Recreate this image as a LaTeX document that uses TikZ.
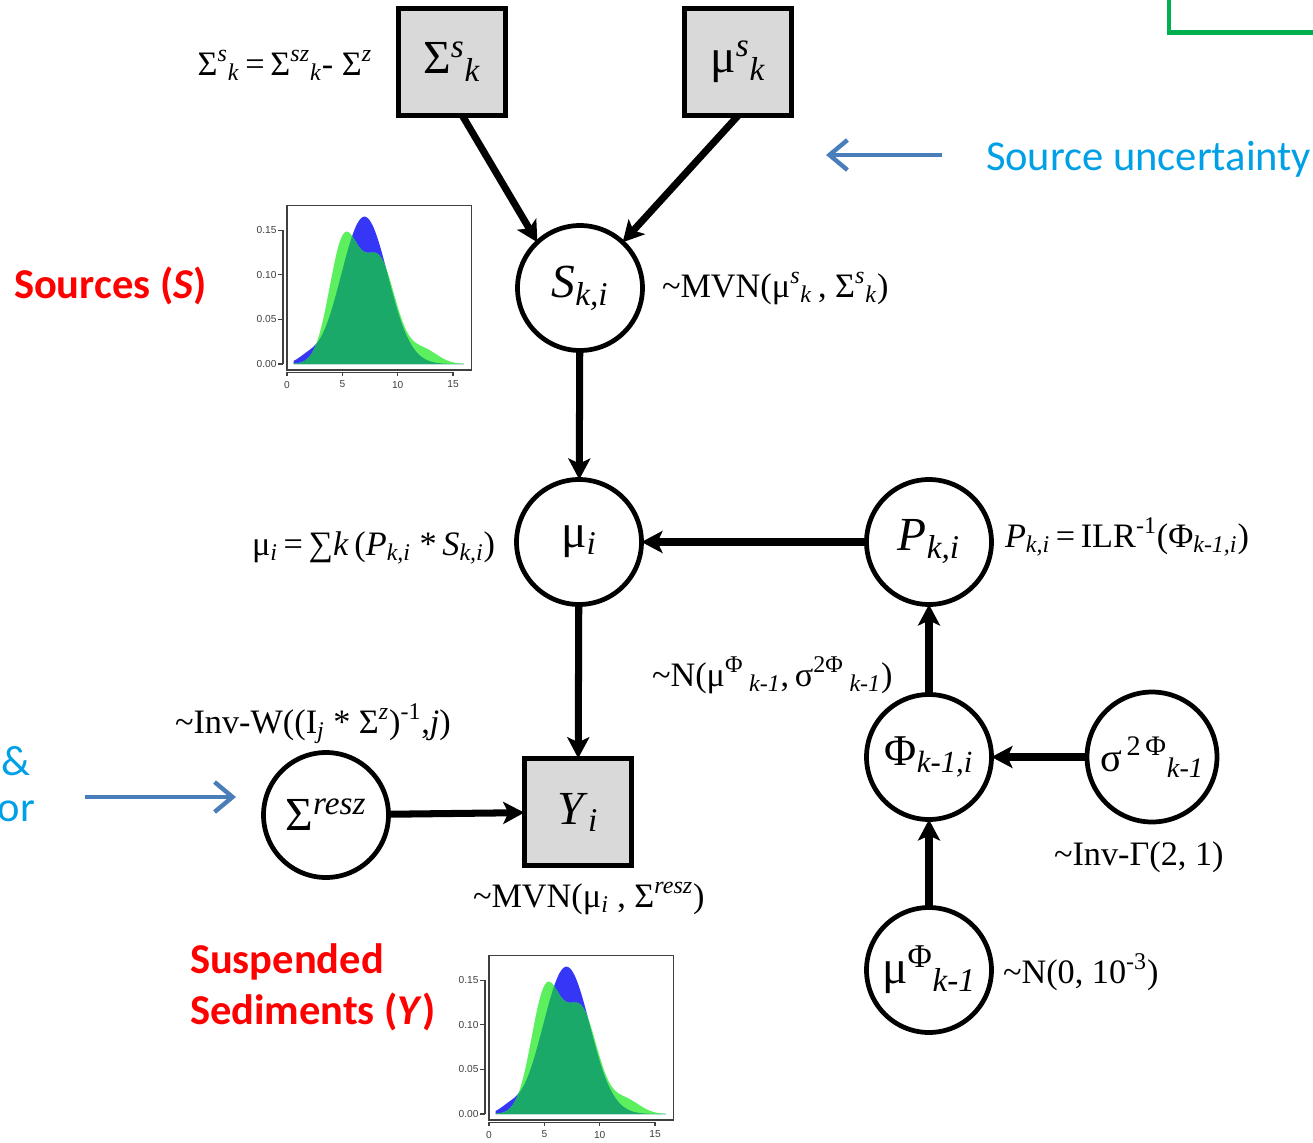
\documentclass[tikz,border=0pt]{standalone}
\usepackage{fontspec}
\setmainfont{Liberation Serif}
\newfontfamily\calib{Carlito}
\newfontfamily\helv{Liberation Sans}
\usetikzlibrary{arrows.meta}

\definecolor{boxgray}{HTML}{D9D9D9}
\definecolor{noteblue}{HTML}{00A0E6}
\definecolor{arrowblue}{HTML}{4A7EBB}
\definecolor{framegreen}{HTML}{00B050}
\definecolor{densblue}{HTML}{3636F6}
\definecolor{denslight}{HTML}{5CF05E}
\definecolor{densdark}{HTML}{1BA96A}
\definecolor{axisgray}{HTML}{404040}
\definecolor{alertred}{HTML}{FF0000}

\newcommand\Up[1]{\textsuperscript{#1}}
\newcommand\Dn[1]{\textsubscript{#1}}
\newcommand\nodesize{\fontsize{27}{30}\selectfont}
\newcommand\labelsize{\fontsize{19.5}{22}\selectfont}

\tikzset{
  every node/.style={inner sep=0pt, outer sep=0pt},
  latent/.style={circle, draw, line width=2.7pt, minimum size=2.5cm, fill=white, font=\nodesize},
  observed/.style={rectangle, draw, line width=2.8pt, minimum size=2.15cm, fill=boxgray, font=\nodesize},
  link/.style={line width=4pt, -{Stealth[length=0.42cm, width=0.44cm, inset=0.1cm]}},
  cue/.style={line width=2.5pt, draw=arrowblue, -{Straight Barb[length=0.36cm, width=0.6cm]}},
  formula/.style={font=\labelsize},
  note/.style={font={\calib\fontsize{24.2}{29}\selectfont}, text=noteblue},
  headline/.style={font={\calib\bfseries\fontsize{24.2}{29}\selectfont}, text=alertred},
  ticklabel/.style={font={\helv\fontsize{5.8}{7}\selectfont}, text=axisgray},
  axisline/.style={draw=axisgray, line width=0.6pt},
  declare function={
    bluedens(\x)=0.165*exp(-((\x-7)^2)/8.82)+0.006*exp(-((\x-1.8)^2)/1.28);
    greendens(\x)=0.134*exp(-((\x-5.1)^2)/3.38)+0.1156*exp(-((\x-8.3)^2)/4.5)+0.016*exp(-((\x-12.3)^2)/3.38);
  },
  density/.pic={
    \begin{scope}[x=0.2214cm, y=17.86cm]
      \fill[densblue] (0.6,0) -- plot[domain=0.6:16, samples=120] (\x,{bluedens(\x)}) -- (16,0) -- cycle;
      \fill[denslight] (0.6,0) -- plot[domain=0.6:16, samples=120] (\x,{greendens(\x)}) -- (16,0) -- cycle;
      \begin{scope}
        \clip (0.6,0) -- plot[domain=0.6:16, samples=120] (\x,{greendens(\x)}) -- (16,0) -- cycle;
        \fill[densdark] (0.6,0) -- plot[domain=0.6:16, samples=120] (\x,{bluedens(\x)}) -- (16,0) -- cycle;
      \end{scope}
      \draw[axisline] (0,-0.0067) rectangle (16.7,0.178);
      \draw[axisline] (-0.36,0) -- (-0.36,0.15);
      \foreach \v/\t [count=\n] in {0/0.00,0.05/0.05,0.1/0.10,0.15/0.15}{
        \draw[axisline] (-0.36,\v) -- (-0.8,\v);
        \node[ticklabel, anchor=east] (-y\n) at (-0.95,\v) {\t};
      }
      \draw[axisline] (0,-0.0093) -- (15,-0.0093);
      \foreach \v [count=\n] in {0,5,10,15}{
        \draw[axisline] (\v,-0.0093) -- (\v,-0.0134);
        \node[ticklabel, anchor=north] (-x\n) at (\v,-0.019) {\v};
      }
    \end{scope}
  }
}

\begin{document}
\begin{tikzpicture}[x=0.02cm, y=-0.02cm]
\useasboundingbox (0,0) rectangle (1313,1143);
\clip (0,0) rectangle (1313,1143);

% corner frame
\draw[framegreen, line width=2.3pt] (1169,-20) rectangle (1340,32.5);

% density sketches
\pic (topplot) at (287,364) {density};
\pic (botplot) at (489,1114) {density};

% model nodes
\node[observed] (SigS) at (452,62) {Σ\Up{\textit{s}}\Dn{\textit{k}}};
\node[observed] (MuS) at (738,62) {μ\Up{\textit{s}}\Dn{\textit{k}}};
\node[latent] (S) at (580,288) {\textit{S}\Dn{\textit{k,i}}};
\node[latent] (Mu) at (579,542) {μ\Dn{\textit{i}}};
\node[latent] (P) at (929,542) {\textit{P}\Dn{\textit{k,i}}};
\node[observed] (Y) at (578,812) {\textit{Y}\Dn{\textit{i}}};
\node[latent] (SigR) at (326,815) {Σ\Up{\textit{resz}}};
\node[latent, font=\fontsize{25}{28}\selectfont] (Phi) at (929,757) {Φ\Dn{\textit{k-1,i}}};
\node[latent, minimum size=2.6cm, font=\fontsize{23}{26}\selectfont] (Sig2) at (1152,757) {σ\Up{\,2\,Φ}\Dn{\textit{k-1}}};
\node[latent] (MuPhi) at (929,970) {μ\Up{Φ}\Dn{\textit{k-1}}};

% dependencies
\draw[link] (SigS.281) -- (S.133);
\draw[link] (MuS.south) -- (S.47);
\draw[link] (S) -- (Mu);
\draw[link] (P) -- (Mu);
\draw[link] (Mu) -- (Y);
\draw[link] (SigR) -- (Y);
\draw[link] (Sig2) -- (Phi);
\draw[link] (MuPhi) -- (Phi);
\draw[link] (Phi) -- (P);

% distributions and definitions
\node[formula, anchor=base east] (eqSigS) at (372,75) {Σ\Up{\textit{s}}\Dn{\textit{k}}\,=\,Σ\Up{\textit{sz}}\Dn{\textit{k}}- Σ\Up{\textit{z}}};
\node[formula, anchor=base west] (eqS) at (662,297) {\textasciitilde MVN(μ\Up{\textit{s}}\Dn{\textit{k}}\,, Σ\Up{\textit{s}}\Dn{\textit{k}})};
\node[formula, anchor=base west] (eqMu) at (252,555) {μ\Dn{\textit{i}}\,=\,∑\textit{k}\,(\textit{P}\Dn{\textit{k,i}}\ *\,\textit{S}\Dn{\textit{k,i}})};
\node[formula, anchor=base west] (eqP) at (1005,547) {\textit{P}\Dn{\textit{k,i}}\,=\,ILR\Up{-1}(Φ\Dn{\textit{k-1,i}})};
\node[formula, anchor=base west] (eqPhi) at (652,686) {\textasciitilde N(μ\Up{Φ}\,\Dn{\textit{k-1}},\,σ\Up{2Φ}\,\Dn{\textit{k-1}})};
\node[formula, anchor=base west] (eqSigR) at (175,733) {\textasciitilde Inv-W((I\Dn{\textit{j}} * Σ\Up{\textit{z}})\Up{-1},\textit{j})};
\node[formula, anchor=base west] (eqY) at (473,907) {\textasciitilde MVN(μ\Dn{\textit{i}} , Σ\Up{\textit{resz}})};
\node[formula, anchor=base west] (eqSig2) at (1054,865) {\textasciitilde Inv-Γ(2, 1)};
\node[formula, anchor=base west] (eqMuPhi) at (1003,983) {\textasciitilde N(0, 10\Up{-3})};

% annotations
\node[note, anchor=base west] (srcNote) at (986,170) {Source uncertainty};
\coordinate (srcCueFrom) at (942,155);
\coordinate (srcCueTo) at (826,155);
\draw[cue] (srcCueFrom) -- (srcCueTo);

\node[note, anchor=base east] (resNoteA) at (31,775) {\&};
\node[note, anchor=base east] (resNoteB) at (35,821) {or};
\coordinate (resCueFrom) at (85,797);
\coordinate (resCueTo) at (236,797);
\draw[cue] (resCueFrom) -- (resCueTo);

\node[headline, anchor=base west] (srcHead) at (14,298) {Sources (\textit{S})};
\node[headline, anchor=base west] (sedHeadA) at (190,973) {Suspended};
\node[headline, anchor=base west] (sedHeadB) at (190,1024) {Sediments (\textit{Y})};
\end{tikzpicture}
\end{document}
